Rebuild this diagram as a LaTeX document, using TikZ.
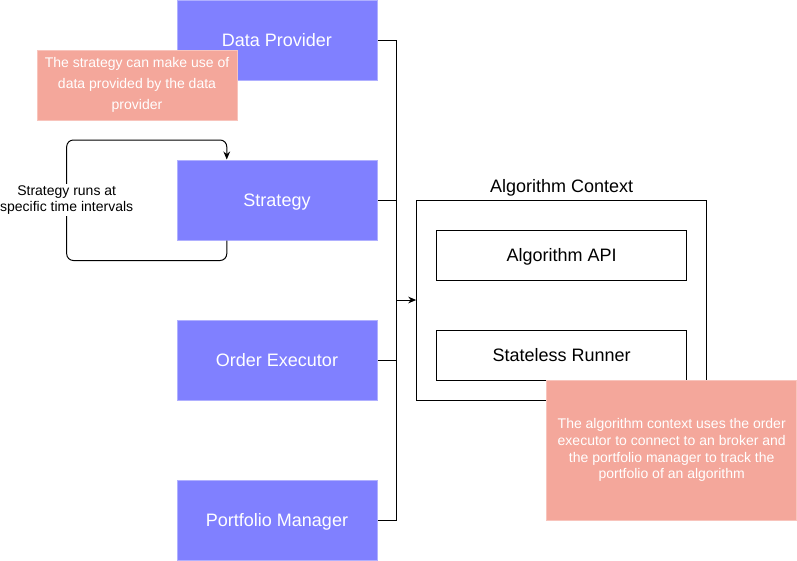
\documentclass[tikz,border=0pt]{standalone}
\usepackage{fontspec}
\setmainfont{Liberation Sans}
\usetikzlibrary{
    arrows.meta,
    calc
}
\definecolor{compfill}{HTML}{8080FF}
\definecolor{compdraw}{HTML}{B0B0FF}
\definecolor{notefill}{HTML}{F4A79B}
\definecolor{notedraw}{HTML}{F8C4BC}
\tikzset{
    every picture/.style = {
        > = {Stealth[length = 6pt, width = 5pt]},
        line width = 0.75pt
    },
    component/.style = {
        draw = compdraw,
        fill = compfill,
        text = white,
        minimum width = 150pt,
        minimum height = 60pt,
        text depth = 0pt,
        font = \fontsize{13.5}{16}\selectfont
    },
    note/.style = {
        draw = notedraw,
        fill = notefill,
        text = white,
        align = center,
        font = \fontsize{10.5}{12.5}\selectfont
    },
    part/.style = {
        draw = black,
        fill = white,
        minimum width = 187.5pt,
        minimum height = 37.5pt,
        text depth = 0pt,
        font = \fontsize{13.5}{16}\selectfont
    }
}

\begin{document}
\begin{tikzpicture}[x = 0.75pt, y = -0.75pt]
    \useasboundingbox[fill = white] (0, 0) rectangle (797, 561);

    % components on the left
    \node[component] (provider) at (277, 40) {Data Provider};
    \node[component] (strategy) at (277, 200) {Strategy};
    \node[component] (executor) at (277, 360) {Order Executor};
    \node[component] (portfolio) at (277, 520) {Portfolio Manager};

    \node[note, minimum width = 150pt, minimum height = 52.5pt, font = \fontsize{10.5}{16}\selectfont] (provnote) at (137, 85)
        {The strategy can make use of\\data provided by the data\\provider};

    % strategy loop
    \coordinate (loopleft) at (66.7, 140);
    \draw[->, rounded corners = 5pt] ($(strategy.south west)!0.25!(strategy.south east)$) -- ++(0, 20)
        -| (loopleft) -| ($(strategy.north west)!0.25!(strategy.north east)$);
    \node[fill = white, align = center, inner sep = 1pt, font = \fontsize{10.5}{12.5}\selectfont] (looplabel) at (66.7, 200)
        {Strategy runs at\\specific time intervals};

    % algorithm context
    \node[draw = black, fill = white, minimum width = 217.5pt, minimum height = 150pt] (context) at (561.7, 300) {};
    \node[font = \fontsize{13.5}{16}\selectfont, anchor = south, inner sep = 2pt] (ctxlabel) at (context.north) {Algorithm Context};
    \node[part] (api) at (561.7, 255) {Algorithm API};
    \node[part] (runner) at (561.7, 355) {Stateless Runner};

    \node[note, minimum width = 187.5pt, minimum height = 105pt] (ctxnote) at (671.7, 450.3)
        {The algorithm context uses the order\\executor to connect to an broker and\\the portfolio manager to track the\\portfolio of an algorithm};

    % bus into the context
    \coordinate (bus) at (396, 300);
    \draw (provider.east) -| (bus);
    \draw (strategy.east) -| (bus);
    \draw (executor.east) -| (bus);
    \draw (portfolio.east) -| (bus);
    \draw[->] (bus) -- (context.west);
\end{tikzpicture}
\end{document}
